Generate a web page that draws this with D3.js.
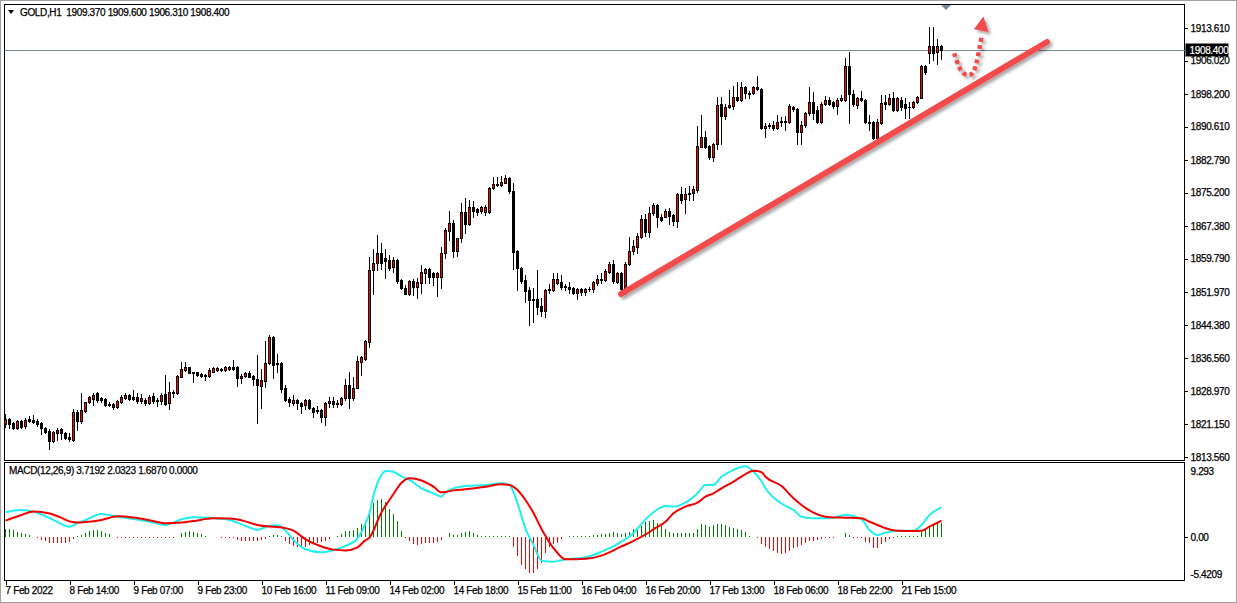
<!DOCTYPE html>
<html><head><meta charset="utf-8">
<script src="https://cdn.jsdelivr.net/npm/d3@7"></script>
<style>
body{margin:0;background:#fff}
svg{display:block}
text{font-family:'Liberation Sans',Arial,sans-serif;font-size:10px;fill:#000;letter-spacing:-0.35px}
text.k{stroke:#000;stroke-width:0.25px}
</style>
</head><body>
<svg id="c" width="1237" height="603"></svg>
<script>
// ---------- DATA ----------
const opens = [
1821.26,1822.42,1821.57,1820.24,1821.96,1820.79,1822.34,1822.19,1821.96,1821.41,
1820.40,1819.62,1817.37,1819.23,1820.01,1819.08,1818.30,1817.53,1823.98,1822.03,
1824.36,1826.31,1827.09,1828.41,1827.24,1827.01,1825.92,1825.92,1825.14,1826.46,
1827.40,1828.02,1827.47,1827.63,1826.62,1826.85,1826.23,1827.79,1826.85,1826.70,
1828.25,1826.08,1828.64,1828.41,1832.29,1833.85,1834.47,1833.31,1833.31,1832.92,
1832.61,1832.53,1833.46,1833.85,1834.00,1833.85,1834.00,1834.47,1834.62,1831.90,
1832.45,1833.22,1832.45,1831.67,1830.11,1831.36,1835.40,1841.62,1835.40,1835.40,
1829.57,1827.16,1826.23,1826.85,1826.23,1825.61,1826.85,1825.06,1824.52,1824.52,
1822.81,1826.07,1826.70,1825.84,1825.92,1827.24,1830.35,1827.24,1829.73,1835.78,
1836.41,1840.45,1857.17,1858.88,1861.06,1859.97,1859.50,1857.79,1859.50,1854.84,
1852.89,1851.57,1854.60,1853.13,1854.21,1856.55,1857.32,1856.39,1855.46,1855.61,
1861.21,1866.34,1868.05,1861.68,1864.55,1870.77,1867.90,1871.78,1871.32,1871.01,
1870.78,1870.78,1876.22,1877.23,1877.08,1877.54,1878.55,1875.60,1861.60,1857.72,
1854.84,1852.51,1850.33,1850.33,1848.77,1847.69,1852.51,1852.51,1854.22,1854.37,
1853.44,1853.13,1852.90,1851.89,1852.66,1852.12,1852.66,1852.66,1854.22,1855.00,
1854.84,1856.79,1858.57,1854.45,1856.55,1852.66,1858.57,1861.68,1862.62,1864.95,
1868.99,1866.11,1870.39,1872.33,1869.61,1869.61,1870.93,1870.00,1868.68,1874.90,
1873.65,1874.90,1875.05,1875.83,1885.94,1888.11,1886.09,1883.45,1886.56,1895.81,
1893.16,1895.11,1895.49,1897.59,1896.82,1899.93,1898.53,1898.37,1899.93,1899.38,
1890.21,1890.75,1890.91,1890.21,1891.69,1891.61,1891.61,1895.26,1894.64,1889.28,
1890.99,1893.71,1896.27,1894.48,1891.61,1895.81,1896.82,1896.27,1895.42,1896.74,
1896.82,1904.75,1898.14,1895.65,1897.21,1896.82,1891.61,1891.61,1887.88,1891.37,
1896.27,1895.81,1897.21,1894.48,1896.82,1895.81,1895.26,1895.11,1896.27,1897.36,
1904.75,1907.70,1909.41,1907.93,1909.37];
const highs = [
1823.51,1822.58,1821.80,1822.19,1822.19,1822.58,1823.20,1823.35,1822.42,1821.64,
1820.63,1820.09,1819.62,1820.24,1820.24,1819.39,1819.08,1824.68,1824.52,1828.56,
1826.46,1827.86,1828.41,1828.80,1827.63,1827.24,1826.46,1826.08,1826.85,1828.02,
1828.56,1828.25,1829.18,1828.41,1828.25,1827.24,1828.02,1828.56,1827.24,1828.41,
1832.68,1831.13,1829.18,1832.68,1835.79,1835.79,1834.63,1833.46,1833.46,1833.07,
1832.84,1834.24,1834.63,1834.55,1834.32,1834.78,1834.78,1836.18,1834.78,1832.91,
1833.46,1833.61,1832.68,1837.35,1834.00,1840.61,1842.01,1841.78,1837.58,1835.63,
1830.35,1827.63,1827.94,1827.16,1826.38,1827.16,1827.01,1825.30,1825.45,1824.67,
1826.31,1827.63,1827.47,1826.85,1827.63,1831.67,1833.46,1832.29,1837.11,1837.11,
1840.84,1860.12,1861.99,1865.33,1863.39,1861.99,1860.67,1860.12,1859.66,1854.99,
1853.67,1854.84,1854.99,1855.22,1858.33,1857.56,1857.70,1856.78,1856.78,1862.61,
1866.89,1870.93,1868.83,1864.71,1872.87,1873.88,1873.49,1873.34,1871.55,1872.09,
1872.33,1876.61,1878.79,1878.79,1879.17,1879.33,1878.94,1877.39,1861.84,1857.95,
1856.01,1853.29,1852.90,1857.17,1850.56,1852.66,1853.91,1856.40,1856.40,1856.01,
1853.91,1854.45,1853.29,1852.90,1852.90,1853.05,1853.13,1854.69,1856.01,1856.55,
1857.33,1859.12,1859.51,1856.71,1856.71,1859.04,1864.95,1864.17,1865.73,1870.00,
1870.23,1871.94,1872.72,1872.49,1870.23,1871.32,1871.56,1870.23,1875.05,1876.45,
1876.22,1876.76,1876.84,1890.76,1893.32,1889.67,1886.33,1886.71,1897.60,1897.59,
1895.81,1899.15,1900.16,1901.09,1901.09,1900.16,1898.92,1900.16,1902.41,1899.69,
1891.37,1891.37,1891.92,1893.32,1892.93,1893.16,1895.81,1895.49,1895.03,1891.92,
1894.09,1899.93,1898.76,1895.49,1896.27,1897.83,1897.59,1896.58,1897.21,1897.98,
1906.69,1908.09,1899.15,1897.59,1898.92,1896.97,1893.32,1891.92,1892.39,1897.98,
1897.98,1898.14,1898.60,1897.59,1897.59,1897.21,1896.27,1896.58,1897.83,1904.98,
1904.98,1913.76,1913.76,1911.04,1909.60];
const lows = [
1820.48,1820.24,1820.09,1820.09,1820.24,1820.24,1821.64,1821.57,1820.79,1818.85,
1819.23,1815.35,1817.14,1817.53,1817.76,1817.68,1817.37,1817.37,1819.86,1821.41,
1824.13,1826.08,1825.69,1826.46,1826.46,1825.45,1825.45,1824.83,1824.91,1826.23,
1827.16,1826.85,1826.85,1826.08,1826.23,1825.69,1825.92,1826.08,1825.53,1825.92,
1825.69,1824.68,1827.63,1828.25,1832.14,1833.69,1833.07,1831.13,1832.45,1832.29,
1831.52,1832.29,1833.31,1833.62,1833.69,1833.69,1833.85,1833.85,1830.11,1830.74,
1832.14,1832.14,1830.35,1821.56,1825.06,1829.96,1835.24,1831.90,1833.46,1828.79,
1826.62,1825.53,1825.68,1824.67,1823.74,1824.75,1824.75,1822.96,1823.89,1821.80,
1821.02,1825.30,1825.14,1825.30,1825.68,1826.85,1824.91,1826.85,1829.57,1832.68,
1836.18,1839.29,1851.49,1857.17,1857.40,1855.22,1857.17,1856.78,1854.06,1852.74,
1851.49,1851.34,1851.34,1850.72,1851.88,1854.21,1854.21,1853.67,1851.18,1853.05,
1859.89,1864.16,1860.12,1860.51,1863.77,1865.72,1867.66,1869.61,1869.99,1870.38,
1870.00,1870.55,1875.99,1876.76,1876.76,1877.39,1875.05,1857.33,1852.51,1854.22,
1849.79,1844.35,1845.12,1846.91,1846.45,1846.29,1851.73,1852.35,1853.91,1852.66,
1852.51,1851.73,1851.58,1850.33,1851.34,1851.34,1852.35,1852.12,1853.68,1854.06,
1854.69,1856.40,1854.06,1854.22,1851.73,1851.50,1858.34,1860.91,1861.06,1864.56,
1865.10,1864.95,1870.00,1867.28,1868.68,1869.46,1867.90,1867.67,1867.28,1872.72,
1870.39,1873.50,1873.50,1875.44,1885.78,1885.55,1883.06,1882.67,1885.32,1886.50,
1892.39,1894.87,1894.72,1896.58,1896.58,1897.21,1897.36,1898.14,1899.15,1890.05,
1888.27,1890.36,1889.82,1890.05,1890.83,1889.82,1891.37,1894.25,1886.48,1886.48,
1890.60,1893.32,1892.39,1891.37,1891.37,1895.65,1895.65,1895.03,1893.47,1896.58,
1896.58,1891.37,1895.49,1894.87,1896.58,1891.37,1889.82,1887.72,1887.49,1891.14,
1894.72,1895.65,1894.25,1894.25,1894.48,1892.54,1892.54,1894.87,1896.04,1897.21,
1902.90,1905.52,1906.15,1905.13,1906.31];
const closes = [
1822.42,1821.18,1820.24,1821.96,1820.48,1822.19,1821.96,1821.80,1821.26,1820.24,
1819.47,1817.37,1819.31,1819.86,1819.08,1817.91,1817.68,1823.98,1822.03,1824.52,
1826.31,1827.63,1828.02,1826.85,1826.85,1825.69,1825.76,1825.14,1826.70,1827.47,
1828.02,1827.09,1827.09,1826.62,1827.40,1826.08,1827.63,1826.62,1826.70,1828.02,
1825.92,1828.64,1828.41,1832.45,1834.00,1834.47,1833.23,1833.23,1832.68,1832.53,
1832.53,1833.85,1834.24,1834.32,1833.92,1834.47,1834.47,1834.00,1831.90,1832.45,
1833.22,1832.29,1831.67,1830.35,1831.51,1835.40,1841.46,1835.01,1835.17,1829.42,
1826.85,1826.46,1826.85,1826.07,1825.45,1826.85,1824.91,1824.13,1824.28,1822.81,
1826.07,1826.70,1825.92,1826.23,1827.24,1830.35,1827.24,1829.57,1835.94,1836.80,
1840.69,1857.17,1858.72,1861.06,1858.72,1859.35,1857.56,1859.50,1854.68,1852.89,
1851.57,1854.60,1853.13,1854.29,1856.62,1857.32,1855.46,1855.46,1856.39,1861.21,
1866.50,1868.05,1861.68,1864.55,1870.77,1867.90,1871.78,1871.01,1870.77,1871.78,
1871.94,1876.22,1877.23,1877.08,1877.62,1878.55,1875.60,1861.45,1857.56,1854.69,
1852.35,1850.18,1850.18,1848.62,1847.69,1852.51,1852.82,1855.00,1855.15,1853.29,
1853.29,1852.66,1851.89,1852.66,1852.12,1852.82,1852.82,1854.45,1855.07,1854.84,
1857.02,1858.57,1854.69,1856.40,1852.66,1858.57,1861.68,1862.85,1865.10,1868.99,
1866.11,1870.39,1872.33,1869.61,1868.83,1870.93,1869.77,1868.60,1874.90,1873.50,
1874.90,1875.05,1876.06,1886.09,1888.11,1885.94,1883.45,1886.56,1895.66,1893.16,
1895.11,1895.65,1897.59,1896.82,1899.93,1898.37,1898.22,1899.93,1899.38,1890.21,
1890.75,1890.91,1890.21,1891.76,1891.92,1891.92,1895.49,1894.64,1889.28,1890.99,
1893.86,1896.27,1893.71,1891.61,1895.88,1896.82,1895.88,1895.42,1896.82,1897.21,
1904.75,1898.14,1895.81,1897.21,1896.82,1891.61,1891.37,1887.88,1891.61,1896.04,
1895.81,1897.21,1894.48,1897.21,1895.26,1895.03,1895.11,1896.27,1897.59,1904.75,
1903.35,1909.41,1907.70,1909.41,1908.40];

// MACD histogram (main - signal), one per bar
const macdHist = [
1.05,0.96,0.84,0.63,0.46,0.34,0.21,0,-0.17,-0.38,
-0.55,-0.71,-0.80,-0.80,-0.80,-0.80,-0.63,-0.21,0.08,0.21,
0.46,0.71,0.84,0.84,0.75,0.55,0.34,0,-0.08,-0.12,
-0.15,-0.15,-0.17,-0.17,-0.15,-0.15,-0.17,-0.17,-0.15,-0.15,
-0.13,-0.12,-0.10,0,0.46,0.63,0.71,0.63,0.46,0.34,
0.13,0,0,0,-0.05,-0.08,-0.10,-0.13,-0.38,-0.46,
-0.55,-0.55,-0.55,-0.55,-0.42,-0.21,0.13,0.21,0.21,0.13,
-0.50,-0.92,-1.13,-1.26,-1.34,-1.22,-1.05,-0.92,-0.80,-0.63,
-0.50,-0.21,0,0.13,0.34,0.75,0.75,0.84,1.17,1.59,
2.01,3.27,4.32,4.65,4.74,4.40,3.56,2.85,2.01,0.75,
-0.10,-0.50,-0.92,-1.05,-0.92,-0.80,-0.71,-0.71,-0.63,-0.38,
0,0.46,0.21,0.21,0.46,0.63,0.71,0.55,0.21,0.13,
0.10,0.10,0.10,0.10,0.10,0.10,0.08,-1.22,-2.39,-3.56,
-4.07,-4.49,-4.49,-4.07,-3.23,-2.05,-1.22,-0.92,-0.71,-0.29,
0,0.08,0.10,0.10,0.13,0.13,0.17,0.21,0.25,0.34,
0.42,0.55,0.63,0.55,0.42,0.50,0.63,0.97,1.13,1.38,
1.89,2.01,2.10,1.80,1.38,0.97,0.63,0.55,0.46,0.46,
0.46,0.46,0.55,1.05,1.59,1.47,1.26,1.47,1.59,1.59,
1.47,1.26,1.17,0.97,0.84,0.63,0.13,0,-0.17,-0.92,
-1.22,-1.55,-1.76,-2.00,-2.18,-2.05,-1.76,-1.34,-1.22,-1.05,
-0.80,-0.50,-0.50,-0.38,-0.29,-0.17,-0.13,-0.08,0,0,
0.46,0.21,-0.08,-0.08,-0.13,-0.63,-0.80,-1.34,-1.34,-0.92,
-0.63,-0.29,-0.17,0.08,0.08,0.08,0.08,0.08,0.13,0.84,
1.05,1.30,1.59,1.72,1.687];

// MACD main / signal lines, read at these bar indices
const macdIdx = [0,4,7,11,14,16,18,20,24,28,32,36,40,44,47,52,56,60,63,66,68,70,72,75,79,82,85,88,90,91,92,93,94,95,97,99,101,104,107,109,110,112,115,120,124,126,128,130,132,134,137,140,145,149,154,157,160,162,165,167,170,173,175,177,179,182,185,187,189,190,194,197,199,202,206,210,214,216,218,220,223,227,229,231,234];
const macdMain = [3.09,3.38,3.17,2.38,1.60,1.28,1.75,2.13,2.88,2.54,2.25,1.91,1.50,2.21,2.47,2.34,2.13,1.37,0.90,1.40,1.45,0.80,-0.39,-1.56,-1.94,-1.65,-1.14,-0.18,1.70,3.00,5.20,6.80,7.80,8.30,8.20,7.60,7.16,6.11,5.48,5.06,5.60,6.10,6.40,6.53,6.74,6.53,4.23,1.00,-1.00,-3.00,-3.12,-2.82,-2.57,-1.86,-0.60,0.50,2.20,3.10,3.89,3.80,4.30,5.48,6.53,6.53,7.57,8.42,8.90,8.20,7.00,6.11,4.20,3.38,2.54,2.34,2.34,2.75,2.21,0.87,0.24,0.53,0.78,0.78,1.50,2.75,3.7192];
const macdSignal = [2.04,2.75,3.20,2.95,2.40,1.95,1.80,1.87,2.13,2.60,2.45,2.10,1.71,1.80,2.00,2.33,2.30,1.95,1.50,1.30,1.25,1.10,0.78,-0.30,-1.20,-1.60,-1.70,-1.31,-0.40,-0.10,0.80,2.00,3.10,3.90,5.40,6.80,7.37,7.10,6.31,5.60,5.65,5.85,5.99,6.31,6.62,6.53,5.90,4.64,3.00,1.00,-1.40,-2.82,-2.75,-2.35,-1.20,-0.50,0.30,0.95,1.91,2.97,3.80,4.30,5.06,5.48,6.11,6.94,7.90,8.33,8.15,7.57,6.40,4.86,4.01,3.04,2.47,2.42,2.34,1.91,1.50,1.08,0.78,0.74,0.78,1.28,2.0323];

const priceTicks = [1913.61,1906.02,1898.20,1890.61,1882.79,1875.20,1867.38,1859.79,1851.97,1844.38,1836.56,1828.97,1821.15,1813.56];
const macdTicks = [9.293, 0, -5.4209];
const macdTickLabels = ["9.293","0.00","-5.4209"];
const timeTickIdx = [0,16,32,48,64,80,96,112,128,144,160,176,192,208,224];
const timeTickLabels = ["7 Feb 2022","8 Feb 14:00","9 Feb 07:00","9 Feb 23:00","10 Feb 16:00","11 Feb 09:00","14 Feb 02:00","14 Feb 18:00","15 Feb 11:00","16 Feb 04:00","16 Feb 20:00","17 Feb 13:00","18 Feb 06:00","18 Feb 22:00","21 Feb 15:00"];
const title = "GOLD,H1  1909.370 1909.600 1906.310 1908.400";
const macdTitle = "MACD(12,26,9) 3.7192 2.0323 1.6870 0.0000";
const bidPrice = 1908.40;
// annotations (bar index, price)
const trendLine = [[154, 1851.57], [260.5, 1910.34]];
const arrowPath = [[237.3, 1907.71], [239.3, 1903.3], [240.8, 1902.6], [242.0, 1903.2], [244.2, 1912.0]];
const arrowHead = [[244.6, 1916.3], [242.2, 1913.3], [245.9, 1912.7]];

// ---------- DRAW ----------
const svg = d3.select('#c');
const W = 1237, H = 603;
const L = 4.5, R = 1184.5, T = 4.5, B = 460.5, MT = 462.5, MB = 580.5;

const x = d3.scaleLinear().domain([0, 234]).range([5, 941]);
const y = d3.scaleLinear().domain([1813.56, 1913.61]).range([457, 28]);
const ym = d3.scaleLinear().domain([-5.4209, 9.293]).range([580, 463]);

svg.append('rect').attr('width', W).attr('height', H).attr('fill', '#fff');
svg.append('rect').attr('x', 0.5).attr('y', 0.5).attr('width', W - 1).attr('height', H - 1)
  .attr('fill', 'none').attr('stroke', '#a0a0a0');

const defs = svg.append('defs');
const f = defs.append('filter').attr('id', 'sh').attr('x', '-20%').attr('y', '-20%').attr('width', '140%').attr('height', '140%');
f.append('feDropShadow').attr('dx', 2.5).attr('dy', 2.5).attr('stdDeviation', 1.6)
  .attr('flood-color', '#000').attr('flood-opacity', 0.35);

// frames
svg.append('rect').attr('x', L).attr('y', T).attr('width', R - L).attr('height', B - T)
  .attr('fill', '#fff').attr('stroke', '#000');
svg.append('rect').attr('x', L).attr('y', MT).attr('width', R - L).attr('height', MB - MT)
  .attr('fill', '#fff').attr('stroke', '#000');

// bid line
const by = Math.round(y(bidPrice)) + 0.5;
svg.append('line').attr('x1', L).attr('x2', R + 2).attr('y1', by).attr('y2', by)
  .attr('stroke', '#778899').attr('stroke-width', 1);

// candles
const g = svg.append('g').attr('shape-rendering', 'crispEdges');
d3.range(opens.length).forEach(i => {
  const cx = x(i);
  const o = opens[i], c = closes[i], h = highs[i], l = lows[i];
  const yh = Math.round(y(h)), yl = Math.round(y(l));
  const yt = Math.round(y(Math.max(o, c))), yb = Math.round(y(Math.min(o, c)));
  g.append('rect').attr('x', cx).attr('y', yh).attr('width', 1).attr('height', Math.max(1, yl - yh + 1)).attr('fill', '#000');
  const bh = Math.max(1, yb - yt + 1);
  g.append('rect').attr('x', cx - 1).attr('y', yt).attr('width', 3).attr('height', bh).attr('fill', '#000');
  if (c > o && bh > 2) {
    g.append('rect').attr('x', cx).attr('y', yt + 1).attr('width', 1).attr('height', bh - 2).attr('fill', '#ff0000');
  }
});

// price axis
const ya = svg.append('g').attr('transform', `translate(${R},0)`)
  .call(d3.axisRight(y).tickValues(priceTicks).tickSize(3).tickPadding(3).tickFormat(d3.format('.3f')));
ya.select('.domain').remove();
ya.selectAll('line').attr('stroke', '#000').attr('shape-rendering', 'crispEdges');
ya.selectAll('text').attr('class', 'k').style('font-family', "'Liberation Sans',Arial,sans-serif").style('font-size', '10px').attr('fill', '#000');

// bid label
svg.append('rect').attr('x', R + 1).attr('y', by - 7).attr('width', 43).attr('height', 13).attr('fill', '#000');
svg.append('text').attr('x', R + 5).attr('y', by + 3.5).style('fill', '#fff').attr('stroke', '#fff').attr('stroke-width', 0.2).text(d3.format('.3f')(bidPrice));

// shift marker
const sx = x(234) + 5;
svg.append('path').attr('d', `M${sx - 5},${T + 0.5} L${sx + 5},${T + 0.5} L${sx},${T + 5.5} Z`).attr('fill', '#778899');

// title
svg.append('path').attr('d', 'M8,10 L14,10 L11,14 Z').attr('fill', '#000');
svg.append('text').attr('class', 'k').attr('x', 20).attr('y', 16).attr('xml:space', 'preserve').style('white-space', 'pre').text(title);

// trend line
svg.append('line')
  .attr('x1', x(trendLine[0][0])).attr('y1', y(trendLine[0][1]))
  .attr('x2', x(trendLine[1][0])).attr('y2', y(trendLine[1][1]))
  .attr('stroke', '#f24b4b').attr('stroke-width', 6).attr('stroke-linecap', 'round')
  .attr('filter', 'url(#sh)');

// dotted arrow
const ag = svg.append('g').attr('filter', 'url(#sh)');
ag.append('path').attr('d', d3.line().x(d => x(d[0])).y(d => y(d[1])).curve(d3.curveCatmullRom)(arrowPath))
  .attr('fill', 'none').attr('stroke', '#f24b4b').attr('stroke-width', 4.5).attr('stroke-dasharray', '4 3.2');
ag.append('path').attr('d', d3.line().x(d => x(d[0])).y(d => y(d[1]))(arrowHead) + 'Z').attr('fill', '#f24b4b');

// MACD
const z0 = ym(0);
const hg = svg.append('g').attr('shape-rendering', 'crispEdges');
macdHist.forEach((v, i) => {
  if (v === 0) return;
  const yv = ym(v);
  const top = Math.round(Math.min(yv, z0)), bot = Math.round(Math.max(yv, z0));
  hg.append('rect').attr('x', x(i)).attr('y', v > 0 ? top : Math.round(z0))
    .attr('width', 1).attr('height', Math.max(1, bot - top))
    .attr('fill', v > 0 ? '#008000' : '#ff0000');
});
const lineM = d3.line().x((d, k) => x(macdIdx[k]) + 0.5).y(d => ym(d)).curve(d3.curveMonotoneX);
svg.append('path').attr('d', lineM(macdMain)).attr('fill', 'none').attr('stroke', '#22eeee').attr('stroke-width', 2);
svg.append('path').attr('d', lineM(macdSignal)).attr('fill', 'none').attr('stroke', '#f00000').attr('stroke-width', 2);

svg.append('text').attr('class', 'k').attr('x', 9).attr('y', 474).text(macdTitle);

// MACD axis
const ma = svg.append('g').attr('transform', `translate(${R},0)`)
  .call(d3.axisRight(ym).tickValues(macdTicks).tickSize(3).tickPadding(3).tickFormat((d, k) => macdTickLabels[k]));
ma.select('.domain').remove();
ma.selectAll('line').attr('stroke', '#000').attr('shape-rendering', 'crispEdges');
ma.selectAll('text').attr('class', 'k').style('font-family', "'Liberation Sans',Arial,sans-serif").style('font-size', '10px').attr('fill', '#000')
  .attr('dy', (d, k) => k === 0 ? '1.1em' : (k === 2 ? '-0.3em' : '0.32em'));
ma.selectAll('.tick').filter((d, k) => k !== 1).select('line').remove();

// time axis
const xa = svg.append('g').attr('transform', `translate(0,${MB})`)
  .call(d3.axisBottom(x).tickValues(timeTickIdx).tickSize(4).tickPadding(2).tickFormat((d, k) => timeTickLabels[k]));
xa.select('.domain').remove();
xa.selectAll('line').attr('stroke', '#000').attr('transform', 'translate(0.5,0)').attr('shape-rendering', 'crispEdges');
xa.selectAll('text').attr('class', 'k').style('font-family', "'Liberation Sans',Arial,sans-serif").style('font-size', '10px')
  .attr('fill', '#000').attr('text-anchor', 'start').attr('x', 0).attr('dy', '0.71em');
</script>
</body></html>
